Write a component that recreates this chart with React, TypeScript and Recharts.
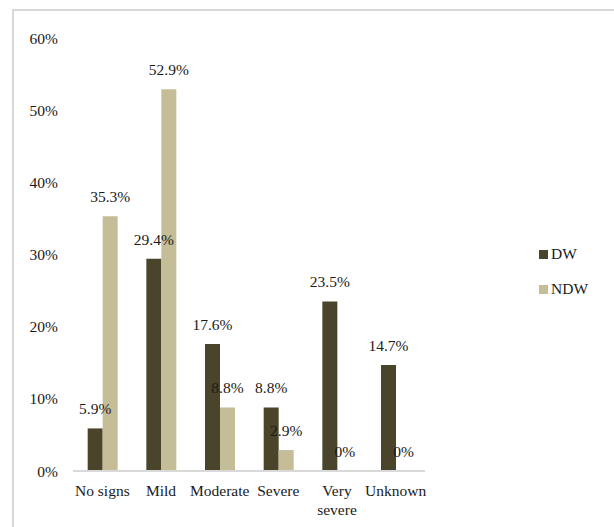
import React from 'react';
import { BarChart, Bar, XAxis, YAxis, Legend, LabelList } from 'recharts';

const categories = ['No signs', 'Mild', 'Moderate', 'Severe', 'Very severe', 'Unknown'];
const dwValues = [5.9, 29.4, 17.6, 8.8, 23.5, 14.7];
const ndwValues = [35.3, 52.9, 8.8, 2.9, 0, 0];
const yTicks = [0, 10, 20, 30, 40, 50, 60];

const DW_COLOR = '#4A452A';
const NDW_COLOR = '#C4BD97';
const FONT = 'Liberation Serif, Times New Roman, serif';
const TEXT = '#1a1a1a';

const data = categories.map((name, i) => ({ name, DW: dwValues[i], NDW: ndwValues[i] }));

const CategoryTick = (props: any) => {
  const { x, y, payload } = props;
  const label: string = payload.value;
  const lines = label.length > 9 ? label.split(' ') : [label];
  return (
    <text x={x} y={y + 24.5} textAnchor="middle" fill={TEXT} style={{ fontFamily: FONT, fontSize: 15.5 }}>
      {lines.map((line, i) => (
        <tspan key={i} x={x} dy={i === 0 ? 0 : 19}>{line}</tspan>
      ))}
    </text>
  );
};

const LegendBox = () => (
  <div style={{ fontFamily: FONT, fontSize: 15.5, color: TEXT }}>
    {[{ name: 'DW', color: DW_COLOR }, { name: 'NDW', color: NDW_COLOR }].map((item) => (
      <div key={item.name} style={{ display: 'flex', alignItems: 'center', height: 20, marginBottom: 15 }}>
        <span style={{ width: 9, height: 9, background: item.color, display: 'inline-block', marginRight: 3 }} />
        <span>{item.name}</span>
      </div>
    ))}
  </div>
);

// zero-value bars still need their "0%" label, so give them a hairline height
const zeroMin = (v: any) => (Number(v) === 0 ? 0.01 : 0);

const labelStyle = { fill: TEXT, fontFamily: FONT, fontSize: 15.5 };

export default function App() {
  return (
    <div style={{ position: 'absolute', left: 0, top: 0, width: 614, height: 527, background: '#fff' }}>
      <div
        style={{
          position: 'absolute', left: 12, top: 9, right: 0, bottom: 0,
          borderLeft: '2px solid #d9d9d9', borderTop: '2px solid #d9d9d9',
        }}
      />
      <div style={{ position: 'absolute', left: 0, top: 0 }}>
        <BarChart
          width={614}
          height={527}
          data={data}
          margin={{ top: 38, right: 114, bottom: 0, left: 0 }}
          barCategoryGap="25%"
          barGap={0}
        >
          <XAxis
            dataKey="name"
            height={56}
            interval={0}
            tickLine={false}
            tickSize={0}
            tickMargin={0}
            axisLine={{ stroke: '#d9d9d9', strokeWidth: 2 }}
            tick={<CategoryTick />}
          />
          <YAxis
            width={73}
            domain={[0, 60]}
            ticks={yTicks}
            interval={0}
            axisLine={false}
            tickLine={false}
            tickSize={0}
            tickMargin={15}
            tickFormatter={(v: number) => `${v}%`}
            tick={{ fill: TEXT, style: { fontFamily: FONT, fontSize: 15.5 } }}
          />
          <Legend
            layout="vertical"
            verticalAlign="top"
            align="right"
            content={<LegendBox />}
            wrapperStyle={{ left: 539, top: 244, width: 75 }}
          />
          <Bar dataKey="DW" fill={DW_COLOR} isAnimationActive={false} minPointSize={zeroMin}>
            <LabelList dataKey="DW" position="top" offset={14} formatter={(v: any) => `${v}%`} style={labelStyle} />
          </Bar>
          <Bar dataKey="NDW" fill={NDW_COLOR} isAnimationActive={false} minPointSize={zeroMin}>
            <LabelList dataKey="NDW" position="top" offset={14} formatter={(v: any) => `${v}%`} style={labelStyle} />
          </Bar>
        </BarChart>
      </div>
    </div>
  );
}
